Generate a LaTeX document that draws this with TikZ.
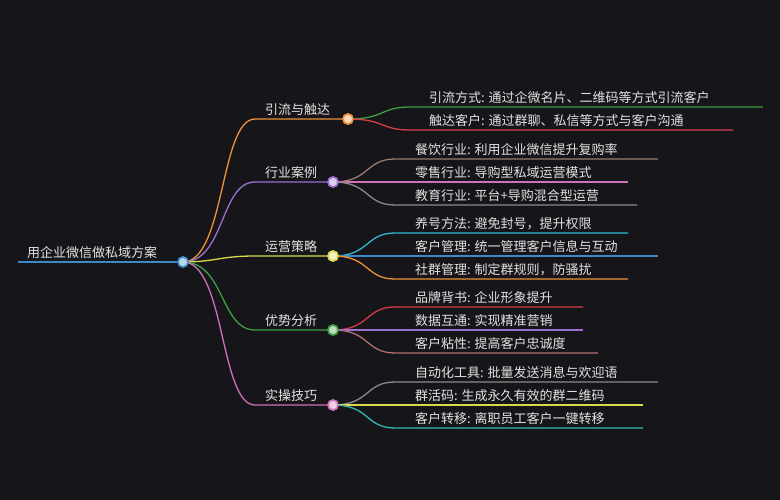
\documentclass[tikz,border=0pt]{standalone}
\usepackage{fontspec}
\setmainfont{Noto Sans CJK SC}
\definecolor{bg}{HTML}{16161A}
\definecolor{txt}{HTML}{E2E2E2}
\definecolor{corange}{HTML}{F0903A}
\definecolor{cpurple}{HTML}{9A6FD0}
\definecolor{cyellow}{HTML}{D8D84A}
\definecolor{cgreen}{HTML}{3AA040}
\definecolor{cpink}{HTML}{D070B8}
\definecolor{cblue}{HTML}{3A8AC8}
\definecolor{cred}{HTML}{D83A4A}
\definecolor{cbrown}{HTML}{9A7A70}
\definecolor{cgray}{HTML}{8A8A8A}
\definecolor{ccyan}{HTML}{30B8D0}
\definecolor{crose}{HTML}{B07070}
\definecolor{cteal}{HTML}{30B8B0}
\tikzset{
  dot/.style={circle,inner sep=0pt,minimum size=10pt,line width=1.5pt,fill=#1!35!white,draw=#1},
  lbl/.style={anchor=south west,text=txt,font=\fontsize{13}{15}\selectfont,inner sep=1pt},
  br/.style={line width=1.3pt,#1}
}
\begin{document}
\begin{tikzpicture}[x=1pt,y=-1pt]
\fill [bg] (0,0) rectangle (780,500);
\useasboundingbox (0,0) rectangle (780,500);
% root
\coordinate (rootL) at (18,262);
\node [dot=cblue] (root) at (183,262) {};
\node [lbl] (roott) at (26,260) {用企业微信做私域方案};
\draw [br=cblue] (rootL) -- (root);
% level 1
\node [dot=corange] (b1) at (348,119) {};
\node [dot=cpurple] (b2) at (333,182) {};
\node [dot=cyellow] (b3) at (333,256) {};
\node [dot=cgreen] (b4) at (333,330) {};
\node [dot=cpink] (b5) at (333,405) {};
\node [lbl] (b1t) at (264,117) {引流与触达};
\node [lbl] (b2t) at (264,180) {行业案例};
\node [lbl] (b3t) at (264,254) {运营策略};
\node [lbl] (b4t) at (264,328) {优势分析};
\node [lbl] (b5t) at (264,403) {实操技巧};
\coordinate (k1) at (255,119);
\coordinate (k2) at (255,182);
\coordinate (k3) at (255,256);
\coordinate (k4) at (255,330);
\coordinate (k5) at (255,405);
\draw [br=corange] (root.center) .. controls (225,262) and (220,119) .. (k1) -- (b1);
\draw [br=cpurple] (root.center) .. controls (225,262) and (220,182) .. (k2) -- (b2);
\draw [br=cyellow] (root.center) .. controls (215,262) and (220,256) .. (k3) -- (b3);
\draw [br=cgreen] (root.center) .. controls (225,262) and (220,330) .. (k4) -- (b4);
\draw [br=cpink] (root.center) .. controls (225,262) and (220,405) .. (k5) -- (b5);
% level 2
\node [lbl] (c11) at (428,105) {引流方式: 通过企微名片、二维码等方式引流客户};
\node [lbl] (c12) at (428,128) {触达客户: 通过群聊、私信等方式与客户沟通};
\node [lbl] (c21) at (414,157) {餐饮行业: 利用企业微信提升复购率};
\node [lbl] (c22) at (414,180) {零售行业: 导购型私域运营模式};
\node [lbl] (c23) at (414,203) {教育行业: 平台+导购混合型运营};
\node [lbl] (c31) at (414,231) {养号方法: 避免封号，提升权限};
\node [lbl] (c32) at (414,254) {客户管理: 统一管理客户信息与互动};
\node [lbl] (c33) at (414,277) {社群管理: 制定群规则，防骚扰};
\node [lbl] (c41) at (414,305) {品牌背书: 企业形象提升};
\node [lbl] (c42) at (414,328) {数据互通: 实现精准营销};
\node [lbl] (c43) at (414,351) {客户粘性: 提高客户忠诚度};
\node [lbl] (c51) at (414,380) {自动化工具: 批量发送消息与欢迎语};
\node [lbl] (c52) at (414,403) {群活码: 生成永久有效的群二维码};
\node [lbl] (c53) at (414,426) {客户转移: 离职员工客户一键转移};
\draw [br=cgreen] (b1.center) .. controls (385,119) and (380,107) .. (410,107) -- (763,107);
\draw [br=cred] (b1.center) .. controls (385,119) and (380,130) .. (410,130) -- (733,130);
\draw [br=cbrown] (b2.center) .. controls (370,182) and (365,159) .. (395,159) -- (658,159);
\draw [br=cpink] (b2.center) -- (628,182);
\draw [br=cgray] (b2.center) .. controls (370,182) and (365,205) .. (395,205) -- (637,205);
\draw [br=ccyan] (b3.center) .. controls (370,256) and (365,233) .. (395,233) -- (628,233);
\draw [br=cblue] (b3.center) -- (658,256);
\draw [br=corange] (b3.center) .. controls (370,256) and (365,279) .. (395,279) -- (628,279);
\draw [br=cred] (b4.center) .. controls (370,330) and (365,307) .. (395,307) -- (583,307);
\draw [br=cpurple] (b4.center) -- (583,330);
\draw [br=crose] (b4.center) .. controls (370,330) and (365,353) .. (395,353) -- (598,353);
\draw [br=cgray] (b5.center) .. controls (370,405) and (365,382) .. (395,382) -- (658,382);
\draw [br=cyellow] (b5.center) -- (643,405);
\draw [br=cteal] (b5.center) .. controls (370,405) and (365,428) .. (395,428) -- (643,428);
% dots on top
\foreach \n/\c in {root/cblue,b1/corange,b2/cpurple,b3/cyellow,b4/cgreen,b5/cpink}
  \node [dot=\c] at (\n) {};
\end{tikzpicture}
\end{document}
